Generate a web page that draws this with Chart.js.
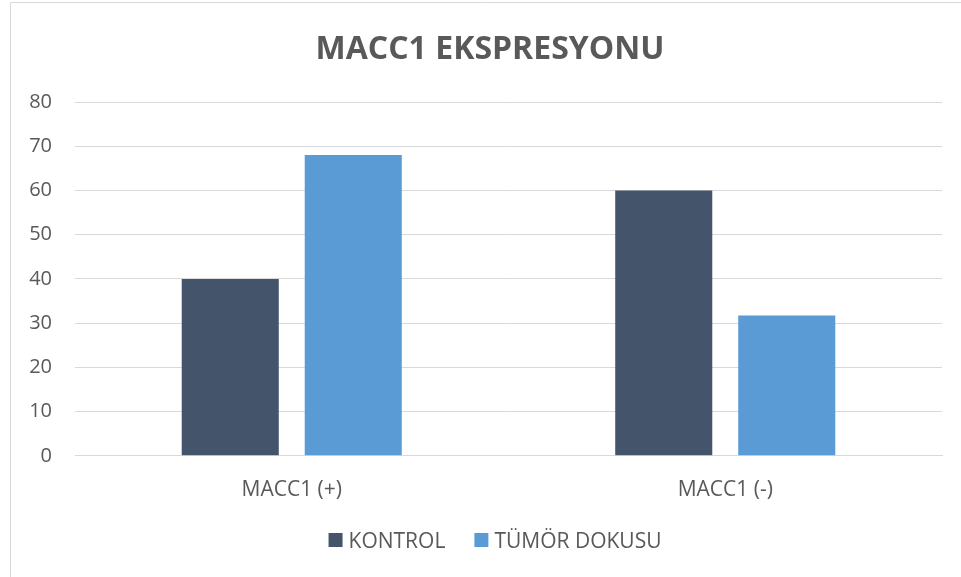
<!DOCTYPE html>
<html>
<head>
<meta charset="utf-8">
<script src="https://cdn.jsdelivr.net/npm/chart.js@4"></script>
<style>
    html, body { margin: 0; padding: 0; background: #ffffff; }
    #wrap { width: 961px; height: 577px; position: relative; }
</style>
</head>
<body>
<div id="wrap"><canvas id="chart" width="961" height="577"></canvas></div>
<script>
const categories = ["MACC1 (+)", "MACC1 (-)"];
const kontrolValues = [40, 60];
const tumorValues = [68, 31.7];
const seriesNames = ["KONTROL", "TÜMÖR DOKUSU"];
const seriesColors = ["#44546a", "#5b9bd5"];
const yTicks = [0, 10, 20, 30, 40, 50, 60, 70, 80];
const chartTitle = "MACC1 EKSPRESYONU";

function start() {
    const textColor = "#595959";

    // white background plus the light frame on the left and top
    const framePlugin = {
        id: "frame",
        beforeDraw(chart) {
            const ctx = chart.ctx;
            ctx.save();
            ctx.fillStyle = "#ffffff";
            ctx.fillRect(0, 0, chart.width, chart.height);
            ctx.strokeStyle = "#d9d9d9";
            ctx.lineWidth = 1;
            ctx.beginPath();
            ctx.moveTo(10.5, chart.height);
            ctx.lineTo(10.5, 2.5);
            ctx.lineTo(chart.width, 2.5);
            ctx.stroke();
            ctx.restore();
        }
    };

    // title and legend drawn by hand so they sit where the office chart puts them
    const headerLegendPlugin = {
        id: "headerLegend",
        afterDraw(chart) {
            const ctx = chart.ctx;
            ctx.save();
            ctx.fillStyle = textColor;
            ctx.font = "bold 32px 'Open Sans'";
            ctx.textAlign = "center";
            ctx.textBaseline = "alphabetic";
            ctx.fillText(chartTitle, 490, 59);

            ctx.font = "21px 'Open Sans'";
            ctx.textAlign = "left";
            const box = 14, boxGap = 6, itemGap = 29;
            const widths = chart.data.datasets.map(d => box + boxGap + ctx.measureText(d.label).width);
            const total = widths.reduce((a, b) => a + b, 0) + itemGap * (widths.length - 1);
            let x = 495 - total / 2;
            chart.data.datasets.forEach((d, i) => {
                ctx.fillStyle = d.backgroundColor;
                ctx.fillRect(x, 533, box, box);
                ctx.fillStyle = textColor;
                ctx.fillText(d.label, x + box + boxGap, 548);
                x += widths[i] + itemGap;
            });
            ctx.restore();
        }
    };

    const ctx = document.getElementById("chart").getContext("2d");
    new Chart(ctx, {
        type: "bar",
        data: {
            labels: categories,
            datasets: [
                {
                    label: seriesNames[0],
                    data: kontrolValues,
                    backgroundColor: seriesColors[0]
                },
                {
                    label: seriesNames[1],
                    data: tumorValues,
                    backgroundColor: seriesColors[1]
                }
            ]
        },
        options: {
            responsive: false,
            animation: false,
            layout: {
                padding: { left: 10, right: 19, top: 102, bottom: 60 }
            },
            datasets: {
                bar: {
                    categoryPercentage: 0.5675,
                    barPercentage: 0.789
                }
            },
            plugins: {
                title: { display: false },
                legend: { display: false },
                tooltip: { enabled: false }
            },
            scales: {
                x: {
                    grid: { display: false },
                    border: { display: true, color: "#d9d9d9" },
                    ticks: {
                        color: textColor,
                        font: { family: "'Open Sans'", size: 21 },
                        padding: 14
                    }
                },
                y: {
                    min: 0,
                    max: 80,
                    afterBuildTicks(scale) {
                        scale.ticks = yTicks.map(v => ({ value: v }));
                    },
                    afterFit(scale) {
                        scale.width = 65;
                    },
                    grid: { color: "#d9d9d9", drawTicks: false },
                    border: { display: false },
                    ticks: {
                        color: textColor,
                        font: { family: "'Open Sans'", size: 20 },
                        padding: 23
                    }
                }
            }
        },
        plugins: [framePlugin, headerLegendPlugin]
    });
}

window.addEventListener("load", start, false);
</script>
</body>
</html>
